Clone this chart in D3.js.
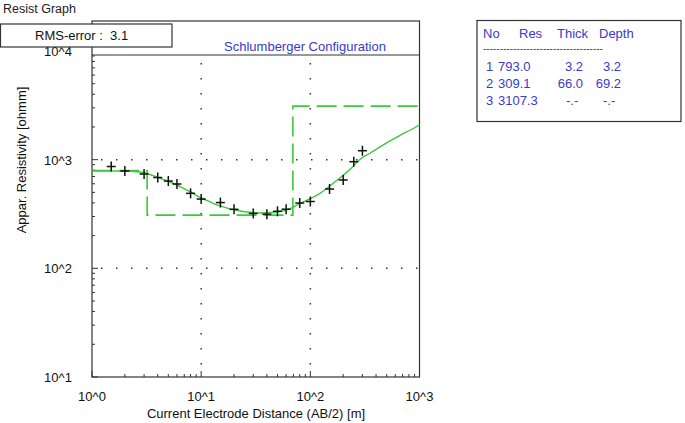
<!DOCTYPE html>
<html>
<head>
<meta charset="utf-8">
<script src="https://cdn.jsdelivr.net/npm/d3@7"></script>
<style>
  body { margin: 0; background: #fff; }
  text { font-family: "Liberation Sans", Arial, sans-serif; }
</style>
</head>
<body>
<div id="chart"></div>
<script>
// measured sounding: AB/2 [m] and apparent resistivity [ohmm]
var abHalf = [1.5, 2, 3, 4, 5, 6, 8, 10, 15, 20, 30, 40, 50, 60, 80, 100, 150, 200, 250, 300];
var rhoObs = [865, 787, 738, 685, 636, 597, 490, 434, 403, 349, 320, 315, 335, 350, 399, 412, 537, 650, 958, 1209];

// calculated curve
var curveAb = [1, 1.8, 2.75, 3.4, 4.2, 5.2, 6.4, 7.9, 9.8, 12.1, 14.9, 18.5, 22.8, 28.2, 34.8, 43, 53, 65.5, 81, 100,
  123.5, 152.6, 188.5, 233, 287.5, 355, 439, 542, 669, 827, 1000];
var curveRho = [788, 786, 770, 730, 674, 623, 566, 509, 449, 408, 375, 352, 337, 328, 323, 326, 333, 355, 397, 439,
  493, 578, 685, 820, 1014, 1152, 1316, 1494, 1686, 1875, 2085];

// layer model
var layerNo = ["1", "2", "3"];
var layerRes = ["793.0", "309.1", "3107.3"];
var layerThick = ["3.2", "66.0", "-.-"];
var layerDepth = ["3.2", "69.2", "-.-"];
var modelRes = [793.0, 309.1, 3107.3];
var modelDepth = [3.2, 69.2];

var xTickLabels = ["10^0", "10^1", "10^2", "10^3"];
var yTickLabels = ["10^1", "10^2", "10^3", "10^4"];

var green = "#3cc83c";
var blue = "#3a3acc";

var svg = d3.select("#chart").append("svg")
  .attr("width", 685)
  .attr("height", 423);

var x = d3.scaleLog().domain([1, 1000]).range([92, 419.5]);
var y = d3.scaleLog().domain([10, 10000]).range([377, 51]);
var plotTop = 55;

svg.append("text")
  .attr("x", 3).attr("y", 13)
  .style("font-size", "12.5px").attr("fill", "#222")
  .text("Resist Graph");

// frame
var frame = svg.append("g").attr("stroke", "#333").attr("fill", "none").attr("stroke-width", 1.2);
frame.append("rect").attr("x", 92).attr("y", 21).attr("width", 327.5).attr("height", 356);
frame.append("line").attr("x1", 92).attr("x2", 419.5).attr("y1", plotTop).attr("y2", plotTop);

// grid (dotted)
var grid = svg.append("g").attr("stroke", "#333").attr("stroke-width", 1.5).attr("stroke-dasharray", "1.5,13.5");
[10, 100].forEach(function(v) {
  grid.append("line").attr("x1", x(v)).attr("x2", x(v)).attr("y1", plotTop + 8).attr("y2", 377);
});
[100, 1000].forEach(function(v) {
  grid.append("line").attr("y1", y(v)).attr("y2", y(v)).attr("x1", 92 + 9).attr("x2", 419.5);
});

// ticks
var ticks = svg.append("g").attr("stroke", "#333").attr("stroke-width", 1);
x.ticks().forEach(function(v) {
  var major = Math.abs(Math.log10(v) - Math.round(Math.log10(v))) < 1e-6;
  ticks.append("line").attr("x1", x(v)).attr("x2", x(v)).attr("y1", 377).attr("y2", 377 - (major ? 6 : 3));
});
y.ticks().forEach(function(v) {
  if (y(v) < plotTop) return;
  var major = Math.abs(Math.log10(v) - Math.round(Math.log10(v))) < 1e-6;
  ticks.append("line").attr("y1", y(v)).attr("y2", y(v)).attr("x1", 92).attr("x2", 92 + (major ? 6 : 3));
});

// tick labels
svg.append("g").selectAll("text").data([1, 10, 100, 1000]).enter().append("text")
  .attr("x", function(d) { return x(d); })
  .attr("y", 401)
  .attr("text-anchor", "middle")
  .style("font-size", "13px").attr("fill", "#111")
  .text(function(d, i) { return xTickLabels[i]; });

svg.append("g").selectAll("text").data([10, 100, 1000, 10000]).enter().append("text")
  .attr("x", 58)
  .attr("y", function(d) { return y(d) + 5; })
  .attr("text-anchor", "middle")
  .style("font-size", "13px").attr("fill", "#111")
  .text(function(d, i) { return yTickLabels[i]; });

svg.append("text")
  .attr("x", 256).attr("y", 418)
  .attr("text-anchor", "middle")
  .style("font-size", "13px").attr("fill", "#111")
  .text("Current Electrode Distance (AB/2) [m]");

svg.append("text")
  .attr("transform", "translate(26,160) rotate(-90)")
  .attr("text-anchor", "middle")
  .style("font-size", "13px").attr("fill", "#111")
  .text("Appar. Resistivity [ohmm]");

// model step line
var stepX = [1].concat(modelDepth).concat([1000]);
var stepY = modelRes.concat([modelRes[modelRes.length - 1]]);
var stepLine = d3.line()
  .x(function(d, i) { return x(stepX[i]); })
  .y(function(d) { return y(d); })
  .curve(d3.curveStepAfter);
svg.append("path")
  .attr("d", stepLine(stepY))
  .attr("fill", "none").attr("stroke", green).attr("stroke-width", 1.6)
  .attr("stroke-dasharray", "20,7");

// calculated curve
var calc = d3.line()
  .x(function(d, i) { return x(curveAb[i]); })
  .y(function(d) { return y(d); })
  .curve(d3.curveMonotoneX);
svg.append("path")
  .attr("d", calc(curveRho))
  .attr("fill", "none").attr("stroke", green).attr("stroke-width", 1.4);

// observed points as crosses
var cross = svg.append("g").attr("stroke", "#111").attr("stroke-width", 1.5);
rhoObs.forEach(function(r, i) {
  var cx = x(abHalf[i]), cy = y(r);
  cross.append("line").attr("x1", cx - 4.5).attr("x2", cx + 4.5).attr("y1", cy).attr("y2", cy);
  cross.append("line").attr("x1", cx).attr("x2", cx).attr("y1", cy - 5).attr("y2", cy + 5);
});

// RMS box
svg.append("rect")
  .attr("x", 0.5).attr("y", 24).attr("width", 171.5).attr("height", 23)
  .attr("fill", "#fff").attr("stroke", "#333").attr("stroke-width", 1.2);
svg.append("text")
  .attr("x", 35).attr("y", 40)
  .style("font-size", "13px").attr("fill", "#111")
  .attr("xml:space", "preserve")
  .text("RMS-error :  3.1");

svg.append("text")
  .attr("x", 305).attr("y", 51)
  .attr("text-anchor", "middle")
  .style("font-size", "13px").attr("fill", blue)
  .text("Schlumberger Configuration");

// layer table
var tbl = svg.append("g");
tbl.append("rect")
  .attr("x", 477).attr("y", 20.5).attr("width", 204).attr("height", 101)
  .attr("fill", "#fff").attr("stroke", "#333").attr("stroke-width", 1.2);
var head = [["No", 483], ["Res", 519], ["Thick", 557], ["Depth", 599]];
head.forEach(function(h) {
  tbl.append("text").attr("x", h[1]).attr("y", 38)
    .style("font-size", "13px").attr("fill", blue).text(h[0]);
});
tbl.append("text").attr("x", 483).attr("y", 52)
  .style("font-size", "10px").attr("fill", blue)
  .text("------------------------------------");

function cell(txt, rightX, dashX, ty) {
  var t = tbl.append("text").attr("y", ty).style("font-size", "13px").attr("fill", blue).text(txt);
  if (txt === "-.-") t.attr("x", dashX);
  else t.attr("x", rightX).attr("text-anchor", "end");
}
layerNo.forEach(function(n, i) {
  var ty = 71 + i * 17;
  tbl.append("text").attr("x", 486).attr("y", ty).style("font-size", "13px").attr("fill", blue).text(n);
  tbl.append("text").attr("x", 498).attr("y", ty).style("font-size", "13px").attr("fill", blue).text(layerRes[i]);
  cell(layerThick[i], 583, 566, ty);
  cell(layerDepth[i], 621, 603, ty);
});
</script>
</body>
</html>
